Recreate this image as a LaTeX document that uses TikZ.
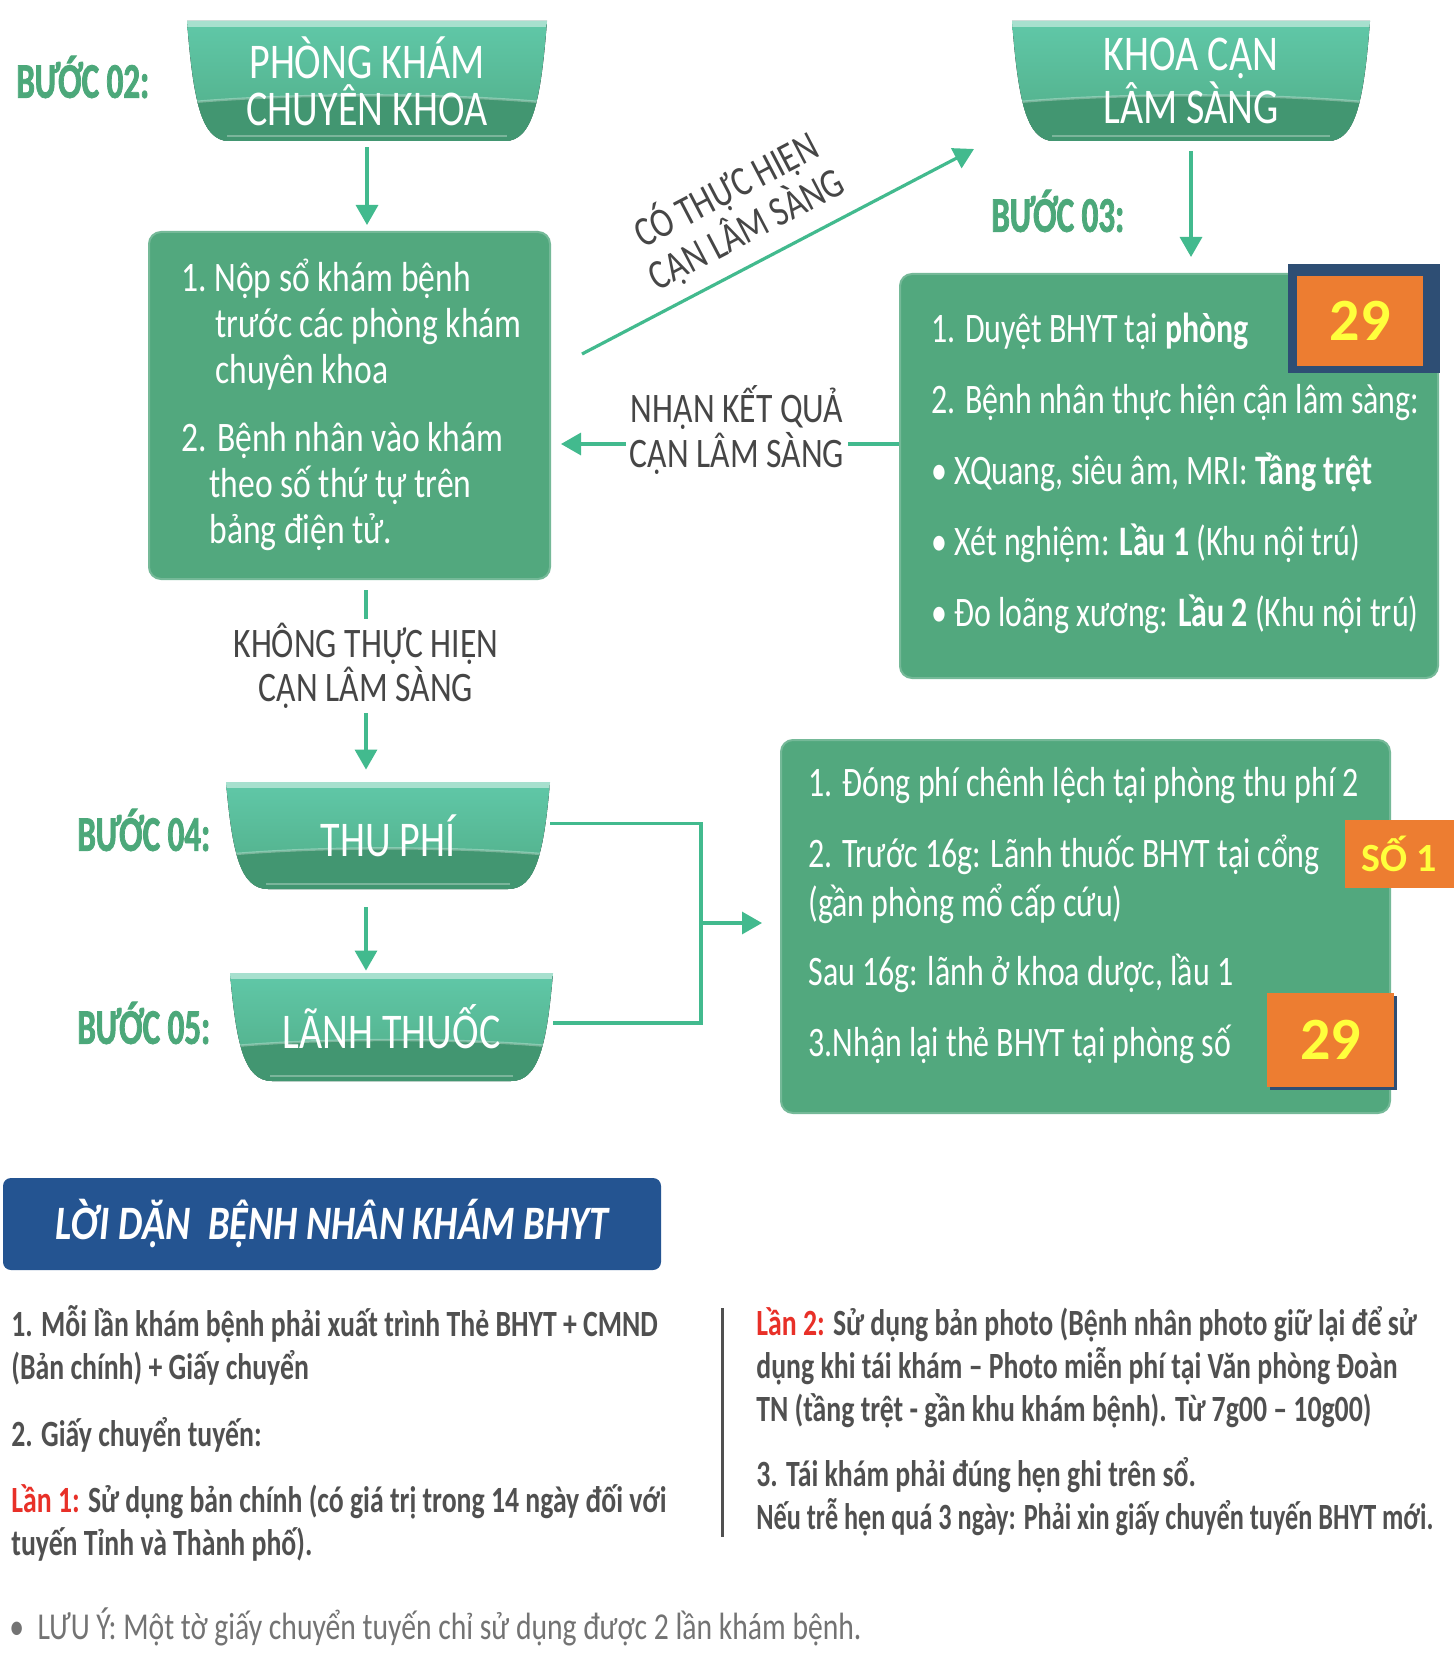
\documentclass[tikz,border=0pt]{standalone}
\usepackage{fontspec}
\setmainfont{Carlito}[FakeStretch=0.8]
\newfontfamily\stepfont{Carlito}[FakeStretch=0.66,BoldFeatures={FakeBold=1.5}]
\newfontfamily\boxfont{Carlito}[FakeStretch=0.76]
\newfontfamily\notefont{Carlito}[FakeStretch=0.75]
\newfontfamily\lyfont{Carlito}[FakeStretch=0.78]
\newfontfamily\tagfont{Carlito}
\usetikzlibrary{arrows.meta}
\definecolor{BoxGreen}{RGB}{82,168,126}
\definecolor{BowlTop}{RGB}{96,200,168}
\definecolor{BowlMid}{RGB}{80,172,134}
\definecolor{BowlBot}{RGB}{66,150,113}
\definecolor{ArrGreen}{RGB}{66,186,142}
\definecolor{StepGreen}{RGB}{76,168,122}
\definecolor{TagOrange}{RGB}{237,125,49}
\definecolor{TagYellow}{RGB}{255,255,60}
\definecolor{TagNavy}{RGB}{46,78,116}
\definecolor{BannerBlue}{RGB}{36,84,145}
\definecolor{NoteGray}{RGB}{80,80,80}
\definecolor{LabelGray}{RGB}{70,70,70}
\definecolor{LanRed}{RGB}{232,48,40}

% bowl outline: x1,y1,x2,y2 (pixel units, y down)
\newcommand{\bowlpath}[4]{(#1,#2) -- (#3,#2) .. controls ({#3-6},{#2+0.65*(#4-#2)}) and ({#3-14},#4) .. ({#3-42},#4) -- ({#1+42},#4) .. controls ({#1+14},#4) and ({#1+6},{#2+0.65*(#4-#2)}) .. (#1,#2) -- cycle}
% bowl heading: name, x1,y1,x2,y2, text
\newcommand{\bowl}[6]{%
  \fill[top color=BowlTop,bottom color=BowlMid] \bowlpath{#2}{#3}{#4}{#5};
  \begin{scope}
    \clip \bowlpath{#2}{#3}{#4}{#5};
    \fill[BowlBot] (#2,{#3+0.68*(#5-#3)}) .. controls ({#2+0.3*(#4-#2)},{#3+0.6*(#5-#3)}) and ({#4-0.3*(#4-#2)},{#3+0.6*(#5-#3)}) .. (#4,{#3+0.68*(#5-#3)}) -- (#4,#5) -- (#2,#5) -- cycle;
    \draw[white,opacity=.3,line width=1.2pt] (#2,{#3+0.68*(#5-#3)}) .. controls ({#2+0.3*(#4-#2)},{#3+0.6*(#5-#3)}) and ({#4-0.3*(#4-#2)},{#3+0.6*(#5-#3)}) .. (#4,{#3+0.68*(#5-#3)});
    \fill[white,opacity=.45] (#2,#3) rectangle (#4,{#3+6});
    \draw[white,opacity=.3,line width=1pt] ({#2+40},{#5-5}) -- ({#4-40},{#5-5});
  \end{scope}
  \node[bowltxt,minimum width={(#4-#2)*0.5pt},minimum height={(#5-#3)*0.5pt}] (#1) at ({(#2+#4)/2},{(#3+#5)/2}) {#6};
}

\begin{document}
\begin{tikzpicture}[x=0.5pt,y=-0.5pt,
  arr/.style={ArrGreen,line width=1.6pt,-{Triangle[length=10pt,width=11pt]}},
  link/.style={ArrGreen,line width=1.6pt},
  gbox/.style={fill=BoxGreen,draw=BoxGreen!80!white,line width=1pt,rounded corners=6pt,inner sep=0pt},
  boxtxt/.style={text=white,align=left,inner sep=0pt,anchor=west},
  steplbl/.style={text=StepGreen,anchor=west,inner sep=0pt,font=\stepfont\bfseries\fontsize{25}{28}\selectfont},
  lbl/.style={text=LabelGray,align=center,inner sep=2pt,font=\fontsize{21}{20}\selectfont},
  tag/.style={fill=TagOrange,text=TagYellow,inner sep=0pt,font=\tagfont\bfseries},
  bowltxt/.style={text=white,align=center,inner sep=0pt,font=\fontsize{25}{23.5}\selectfont},
  note/.style={text=NoteGray,align=left,inner sep=0pt,anchor=west,font=\notefont\bfseries\fontsize{18.5}{21.5}\selectfont}]
\fill[white](0,0) rectangle (1454,1674);
\useasboundingbox (0,0) rectangle (1454,1674);

% headings
\bowl{pk}{187}{21}{547}{141}{PHÒNG KHÁM\\CHUYÊN KHOA}
\bowl{kcls}{1012}{21}{1370}{141}{KHOA CẬN\\LÂM SÀNG}
\bowl{thu}{226}{782}{550}{889}{THU PHÍ}
\bowl{lanh}{230}{973}{553}{1081}{LÃNH THUỐC}
\node[steplbl] (s02) at (16,77) {BƯỚC 02:};
\node[steplbl] (s03) at (991,211) {BƯỚC 03:};
\node[steplbl] (s04) at (77,830) {BƯỚC 04:};
\node[steplbl] (s05) at (77,1023) {BƯỚC 05:};

% green boxes
\node[gbox,minimum width=200.5pt,minimum height=173.5pt] (b1) at (349.5,405.5) {};
\node[boxtxt,font=\fontsize{21}{23}\selectfont] (b1t) at (181,405) {1.~Nộp sổ khám bệnh\\
  \hspace*{17pt}trước các phòng khám\\
  \hspace*{17pt}chuyên khoa\\[11pt]
  2. Bệnh nhân vào khám\\
  \hspace*{14pt}theo số thứ tự trên\\
  \hspace*{14pt}bảng điện tử.};
\node[gbox,minimum width=269pt,minimum height=202pt] (b3) at (1169,476) {};
\node[boxtxt,font=\boxfont\fontsize{21}{35.5}\selectfont] (b3t) at (931,473) {1. Duyệt BHYT tại \textbf{phòng}\\
  2. Bệnh nhân thực hiện cận lâm sàng:\\
  \textbullet\ XQuang, siêu âm, MRI: \textbf{Tầng trệt}\\
  \textbullet\ Xét nghiệm: \textbf{Lầu 1} (Khu nội trú)\\
  \textbullet\ Đo loãng xương: \textbf{Lầu 2} (Khu nội trú)};
\node[gbox,minimum width=304.5pt,minimum height=186.5pt] (b4) at (1085.5,926.5) {};
\node[boxtxt,font=\boxfont\fontsize{21}{24.5}\selectfont] (b4t) at (808,916) {1. Đóng phí chênh lệch tại phòng thu phí 2\\[11pt]
  2. Trước 16g: Lãnh thuốc BHYT tại cổng\\
  (gần phòng mổ cấp cứu)\\[10pt]
  Sau 16g: lãnh ở khoa dược, lầu 1\\[11pt]
  3.Nhận lại thẻ BHYT tại phòng số};

% room tags
\fill[TagNavy] (1288,264) rectangle (1440,373);
\node[tag,minimum width=63pt,minimum height=45pt,font=\tagfont\bfseries\fontsize{30}{30}\selectfont] (tag29a) at (1360,321) {29};
\node[tag,minimum width=54.5pt,minimum height=34pt,font=\tagfont\bfseries\fontsize{20}{20}\selectfont] (tag1) at (1399.5,854) {SỐ 1};
\fill[TagNavy] (1270,996) rectangle (1397,1090);
\node[tag,minimum width=63.5pt,minimum height=47pt,font=\tagfont\bfseries\fontsize{30}{30}\selectfont] (tag29b) at (1330.5,1040) {29};

% connectors
\draw[arr,shorten <=3pt,shorten >=3pt] (pk.south) -- (pk.south |- b1.north);
\draw[arr,shorten <=5pt,shorten >=8pt] (kcls.south) -- (kcls.south |- b3.north);
\coordinate (co1) at (582,354);
\coordinate (co2) at (974,149);
\draw[arr] (co1) -- node[lbl,sloped,above=4pt,pos=0.46] (colbl) {CÓ THỰC HIỆN\\CẬN LÂM SÀNG} (co2);
\node[lbl] (nk) at (737,430) {NHẬN KẾT QUẢ\\CẬN LÂM SÀNG};
\coordinate (nkr) at ([yshift=-7pt]nk.east);
\coordinate (nkl) at ([yshift=-7pt]nk.west);
\draw[link] (nkr) -- (nkr -| b3.west);
\draw[arr,shorten >=5pt] (nkl) -- (nkl -| b1.east);
\node[lbl] (kt) at (366,666) {KHÔNG THỰC HIỆN\\CẬN LÂM SÀNG};
\draw[link,shorten <=5pt] (b1.south -| kt.north) -- (kt.north);
\draw[arr,shorten >=6pt] (kt.south) -- (kt.south |- thu.north);
\draw[arr,shorten <=9pt,shorten >=1pt] (thu.south -| kt.south) -- (kt.south |- lanh.north);
\coordinate (jn) at (701,923);
\draw[link] ([yshift=6pt]thu.east) -| (jn);
\draw[link] ([yshift=2pt]lanh.east) -| (jn);
\draw[arr,shorten >=9pt] (jn) -- (jn -| b4.west);

% advice panel
\node[fill=BannerBlue,rounded corners=4pt,minimum width=329pt,minimum height=46pt,text=white,font=\bfseries\itshape\fontsize{24}{24}\selectfont] (ldan) at (332,1224) {LỜI DẶN\ \ BỆNH NHÂN KHÁM BHYT};
\node[note] (nl) at (11,1433) {1. Mỗi lần khám bệnh phải xuất trình Thẻ BHYT + CMND\\
  (Bản chính) + Giấy chuyển\\[12pt]
  2. Giấy chuyển tuyến:\\[11.5pt]
  \textcolor{LanRed}{Lần 1:} Sử dụng bản chính (có giá trị trong 14 ngày đối với\\
  tuyến Tỉnh và Thành phố).};
\draw[NoteGray,line width=1.5pt] (722,1308) -- (722,1537);
\node[note] (nr) at (756,1421) {\textcolor{LanRed}{Lần 2:} Sử dụng bản photo (Bệnh nhân photo giữ lại để sử\\
  dụng khi tái khám – Photo miễn phí tại Văn phòng Đoàn\\
  TN (tầng trệt - gần khu khám bệnh). Từ 7g00 – 10g00)\\[11pt]
  3. Tái khám phải đúng hẹn ghi trên sổ.\\
  \scalebox{0.945}[1]{Nếu trễ hẹn quá 3 ngày: Phải xin giấy chuyển tuyến BHYT mới.}};
\node[anchor=west,inner sep=0pt,text=NoteGray!80,font=\lyfont\fontsize{19}{20}\selectfont] (luuy) at (9,1627) {\textbullet\ \ LƯU Ý: Một tờ giấy chuyển tuyến chỉ sử dụng được 2 lần khám bệnh.};
\end{tikzpicture}
\end{document}
